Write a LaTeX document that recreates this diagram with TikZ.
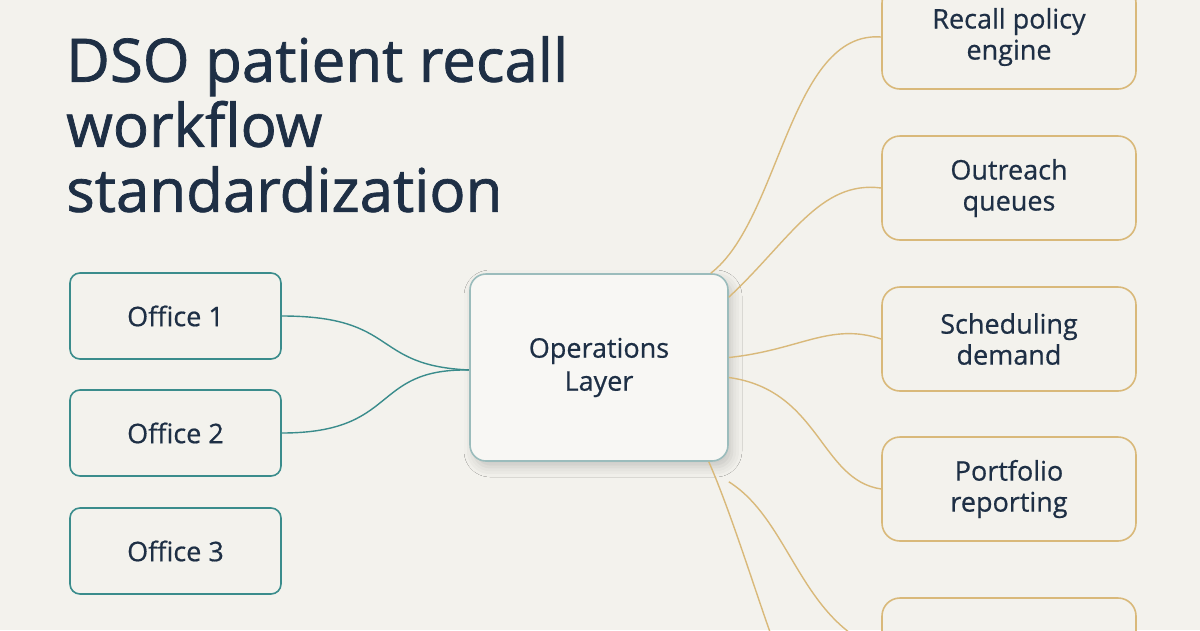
\documentclass[tikz,border=0pt]{standalone}
\usepackage{fontspec}
\setmainfont{Open Sans}[FakeBold=0.6]
\newfontfamily\ttl{Open Sans}[FakeBold=1.2]
\usetikzlibrary{shadows.blur}
\definecolor{bg}{HTML}{F3F2ED}
\definecolor{ink}{HTML}{1E2F45}
\definecolor{teal}{HTML}{3A8C8C}
\definecolor{gold}{HTML}{D9B97A}
\definecolor{opsb}{HTML}{9BBCBC}
\begin{document}
\begin{tikzpicture}[x=1pt,y=-1pt,
  office/.style={draw=teal,line width=1.6pt,rounded corners=10pt,minimum width=211pt,minimum height=86pt,fill=bg,font=\fontsize{27}{31}\selectfont,text=ink},
  right/.style={draw=gold,line width=1.6pt,rounded corners=18pt,minimum width=254pt,minimum height=104pt,fill=bg,align=center,font=\fontsize{27}{31}\selectfont,text=ink},
  ops/.style={draw=opsb,line width=1.6pt,rounded corners=16pt,minimum width=258pt,minimum height=187pt,fill=bg!60!white,align=center,font=\fontsize{27}{33}\selectfont,text=ink,blur shadow={shadow xshift=4pt,shadow yshift=-6pt,shadow blur radius=10pt,shadow opacity=18}},
  tl/.style={teal,line width=1.4pt},
  gl/.style={gold,line width=1.4pt}]
\fill[bg] (0,0) rectangle (1200,630);
\useasboundingbox (0,0) rectangle (1200,630);
\node[anchor=north west,align=left,text=ink,font=\ttl\fontsize{60}{65}\selectfont,inner sep=0pt] (title) at (66,36) {DSO patient recall\\workflow\\standardization};
\node[office] (o1) at (175.5,316) {Office 1};
\node[office] (o2) at (175.5,433) {Office 2};
\node[office] (o3) at (175.5,551) {Office 3};
\node[right] (r1) at (1009,37) {Recall policy\\engine};
\node[right] (r2) at (1009,188) {Outreach\\queues};
\node[right] (r3) at (1009,339) {Scheduling\\demand};
\node[right] (r4) at (1009,489) {Portfolio\\reporting};
\node[right] (r5) at (1009,650) {};
\coordinate (off) at (770,632);
\draw[tl] (o1.east) .. controls (400,316) and (370,366) .. ([yshift=-2pt]470,368) coordinate (oa);
\draw[tl] (o2.east) .. controls (400,433) and (370,368) .. (oa);
\node[ops] (ops) at (599,367.5) {Operations\\Layer};
\draw[gl] ([xshift=-18pt]ops.north east) .. controls (780,220) and (790,30) .. (r1.west);
\draw[gl] ([yshift=-24pt]ops.north east) .. controls (790,240) and (820,180) .. (r2.west);
\draw[gl] ([yshift=10pt]ops.east) .. controls (800,350) and (830,322) .. (r3.west);
\draw[gl] ([yshift=-10pt]ops.east) .. controls (820,390) and (820,480) .. (r4.west);
\draw[gl] ([yshift=-20pt]ops.south east) .. controls (790,520) and (800,620) .. (r5.west);
\draw[gl] ([xshift=-20pt]ops.south east) .. controls (730,510) and (755,590) .. (off);
\end{tikzpicture}
\end{document}
